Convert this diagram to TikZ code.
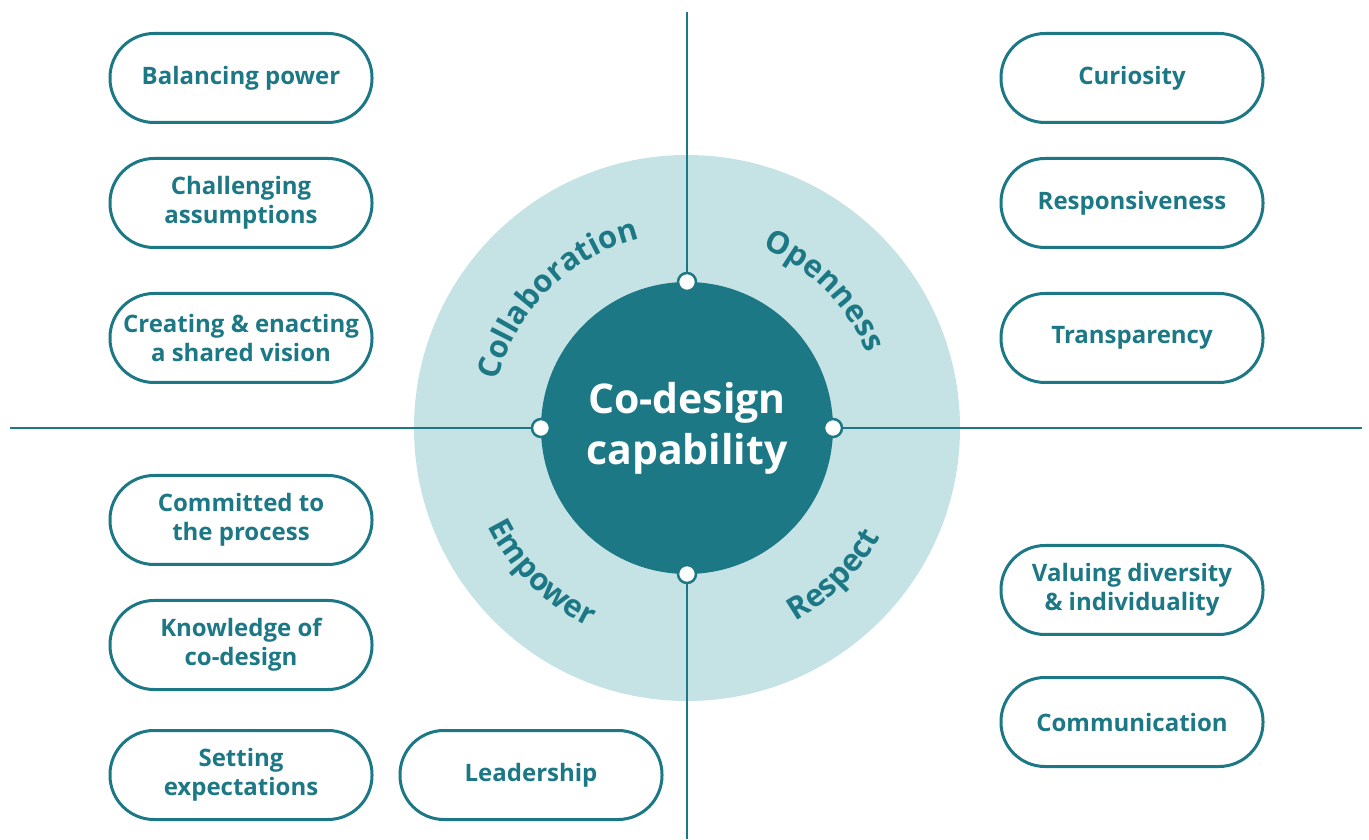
\documentclass[tikz,border=0pt]{standalone}
\usepackage{fontspec}
\setmainfont{Open Sans}
\usetikzlibrary{decorations.text}
\definecolor{cdteal}{RGB}{29,120,134}
\definecolor{cdlight}{RGB}{197,227,229}
\newcommand{\ringfont}{\fontsize{31}{31}\selectfont\bfseries\color{cdteal}}

\begin{document}
\begin{tikzpicture}[
x=1pt, y=1pt,
line width=2.5pt,
every node/.style={font=\bfseries},
]
% \draw [help lines] (0,0) grid[step=100] (1369,839);

\tikzset{
	pill/.style={draw=cdteal, line width=3pt, fill=white, rounded corners=44pt,
		minimum width=262pt, minimum height=89pt, align=center, text=cdteal,
		font=\fontsize{24}{29}\selectfont\bfseries},
	dot/.style={circle, draw=cdteal, fill=white, line width=2.5pt, minimum size=18pt, inner sep=0pt},
	axis/.style={draw=cdteal, line width=2.5pt},
	ring/.style={decorate, decoration={text along path, text align=center, text={|\ringfont|#1}}},
}
\useasboundingbox (0,0) rectangle (1369,839);

\node[circle, fill=cdlight, minimum size=546pt, inner sep=0pt] (outer) at (687,411) {};
\node[circle, fill=cdteal, minimum size=292pt, inner sep=0pt, text=white, align=center,
	font=\fontsize{41}{51}\selectfont\bfseries] (core) at (687,411) {Co-design\\capability};

\node[dot] (dtop) at (687,557) {};
\node[dot] (dbot) at (687,265) {};
\node[dot] (dleft) at (541,411) {};
\node[dot] (dright) at (833,411) {};

\coordinate (etop) at (687,827);
\coordinate (ebot) at (687,0);
\coordinate (eleft) at (10,411);
\coordinate (eright) at (1362,411);

\draw[axis] (dtop) -- (etop);
\draw[axis] (dbot) -- (ebot);
\draw[axis] (dleft) -- (eleft);
\draw[axis] (dright) -- (eright);

% ring labels
\path[ring={Collaboration}] (core.center) ++(180:195pt) arc[start angle=180, end angle=90, radius=195pt];
\path[ring={Openness}] (core.center) ++(90:195pt) arc[start angle=90, end angle=0, radius=195pt];
\path[ring={Empower}] (core.center) ++(180:222pt) arc[start angle=180, end angle=270, radius=222pt];
\path[ring={Respect}] (core.center) ++(270:222pt) arc[start angle=270, end angle=360, radius=222pt];

% left column
\node[pill] (bal) at (241,761) {Balancing power};
\node[pill] (chal) at (241,636) {Challenging\\assumptions};
\node[pill] (create) at (241,501) {Creating \& enacting\\a shared vision};
\node[pill] (commit) at (241,319) {Committed to\\the process};
\node[pill] (know) at (241,194) {Knowledge of\\co-design};
\node[pill] (setexp) at (241,64) {Setting\\expectations};
\node[pill] (lead) at (531,64) {Leadership};

% right column
\node[pill] (cur) at (1132,761) {Curiosity};
\node[pill] (resp) at (1132,636) {Responsiveness};
\node[pill] (transp) at (1132,501) {Transparency};
\node[pill] (valu) at (1132,249) {Valuing diversity\\\& individuality};
\node[pill] (comm) at (1132,117) {Communication};

\end{tikzpicture}
\end{document}
